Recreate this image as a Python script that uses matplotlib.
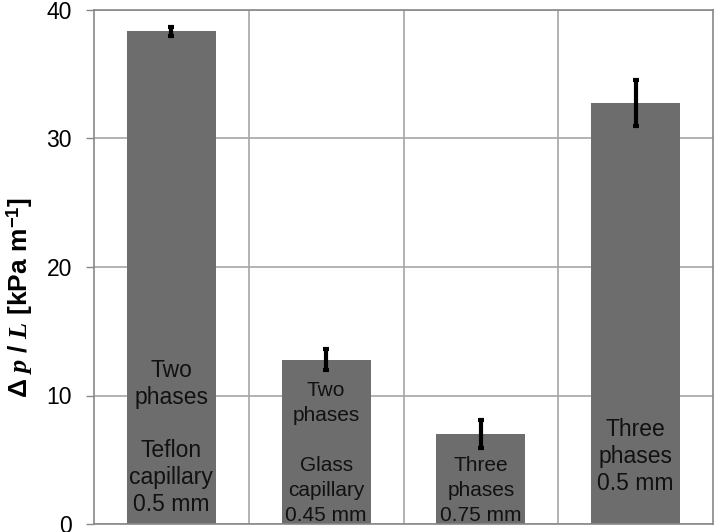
import matplotlib
matplotlib.use("Agg")
import matplotlib.pyplot as plt
from matplotlib.ticker import FixedLocator

# data
labels = [
    "Two\nphases\n\nTeflon\ncapillary\n0.5 mm",
    "Two\nphases\n\nGlass\ncapillary\n0.45 mm",
    "Three\nphases\n0.75 mm",
    "Three\nphases\n0.5 mm",
]
dp_per_l = [38.35, 12.8, 7.0, 32.75]
dp_err = [0.35, 0.8, 1.1, 1.8]
label_y = [6.75, 5.5, 2.6, 5.25]
label_size = [16.5, 15, 15, 16.5]
label_spacing = [1.21, 1.4, 1.4, 1.2]
yticks = [0, 10, 20, 30, 40]

plt.rcParams["font.family"] = ["Liberation Sans", "DejaVu Sans"]
plt.rcParams["mathtext.fontset"] = "custom"
plt.rcParams["mathtext.rm"] = "Liberation Sans:bold"
plt.rcParams["mathtext.bf"] = "Liberation Sans:bold"
plt.rcParams["mathtext.it"] = "Liberation Serif:italic:bold"

fig = plt.figure(figsize=(7.14, 5.32), dpi=100)
ax = fig.add_axes([94 / 714, 8 / 532, 619 / 714, 514 / 532])

x = list(range(len(dp_per_l)))
ax.bar(x, dp_per_l, width=0.575, color="#6d6d6d", zorder=2)
ax.errorbar(x, dp_per_l, yerr=dp_err, fmt="none", ecolor="black",
            elinewidth=3, capsize=2.5, capthick=3, zorder=3)

for xi, txt, ty, fs, ls in zip(x, labels, label_y, label_size, label_spacing):
    ax.text(xi, ty, txt, ha="center", va="center", fontsize=fs,
            color="#111111", linespacing=ls, zorder=4)

ax.set_xlim(-0.5, len(x) - 0.5)
ax.set_ylim(0, 40)
ax.set_yticks(yticks)
ax.set_xticks([])
ax.xaxis.set_minor_locator(FixedLocator([0.5, 1.5, 2.5]))
ax.grid(axis="y", color="#a6a6a6", linewidth=1.2, zorder=0)
ax.grid(axis="x", which="minor", color="#a6a6a6", linewidth=1.2, zorder=0)
ax.tick_params(axis="x", which="both", length=0)
ax.tick_params(axis="y", labelsize=16.5, length=6, width=1, color="#888888",
               pad=10)
for sp in ax.spines.values():
    sp.set_color("#888888")
    sp.set_linewidth(1.2)

ax.set_ylabel(r"$\Delta\ \mathit{p}\ /\ \mathit{L}$ [kPa m$^{-1}$]",
              fontsize=19, fontweight="bold")
ax.yaxis.set_label_coords(-0.096, 0.44)

fig.savefig("out.png", dpi=100)
